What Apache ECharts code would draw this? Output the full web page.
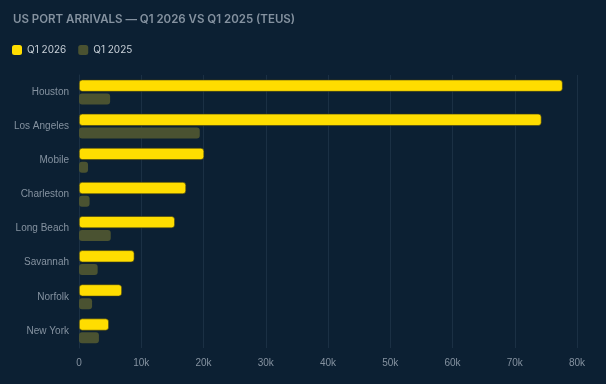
<!DOCTYPE html>
<html><head><meta charset="utf-8">
<script src="https://cdn.jsdelivr.net/npm/echarts@6/dist/echarts.min.js"></script>
<style>html,body{margin:0;padding:0;background:#0c2033;}#c{width:606px;height:384px;}</style>
</head><body><div id="c"></div>
<script>
const ports = ["Houston","Los Angeles","Mobile","Charleston","Long Beach","Savannah","Norfolk","New York"];
const q1_2026 = [77700, 74300, 20100, 17200, 15400, 8900, 6900, 4800];
const q1_2025 = [5000, 19400, 1450, 1700, 5100, 3000, 2100, 3200];
const xTicks = [0, 10000, 20000, 30000, 40000, 50000, 60000, 70000, 80000];

const chart = echarts.init(document.getElementById('c'), null, {renderer:'canvas'});
chart.setOption({
  backgroundColor: '#0c2033',
  animation: false,
  title: {
    text: 'US PORT ARRIVALS — Q1 2026 VS Q1 2025 (TEUS)',
    left: 8, top: 9,
    textStyle: {color:'#8592a0', fontSize: 11.5, fontWeight: 600, fontFamily: 'Inter'}
  },
  legend: {
    left: 7, top: 40, itemWidth: 10, itemHeight: 10, itemGap: 12,
    icon: 'roundRect',
    itemStyle: {borderWidth: 0},
    textStyle: {color:'#c8d0d8', fontSize: 10, fontFamily: 'Inter'},
    data: ['Q1 2026','Q1 2025']
  },
  grid: {left: 79, right: 29, top: 75, bottom: 36, containLabel: false},
  xAxis: {
    type: 'value', min: 0, max: xTicks[xTicks.length-1], interval: 10000,
    axisLabel: {color:'#8592a0', fontSize: 10, fontFamily: 'Liberation Sans', margin: 10,
      formatter: v => v === 0 ? '0' : (v/1000) + 'k'},
    splitLine: {show: true, lineStyle: {color:'#1b3044', width: 1}},
    axisLine: {show: false}, axisTick: {show: false}
  },
  yAxis: {
    type: 'category', data: ports, inverse: true,
    axisLabel: {color:'#8592a0', fontSize: 10, fontFamily: 'Liberation Sans', margin: 10, padding: [2,0,0,0]},
    axisLine: {show: true, lineStyle: {color:'#1b3044'}},
    axisTick: {show: false}
  },
  series: [
    {name:'Q1 2026', type:'bar', data: q1_2026, barWidth: 12, barGap: '15%',
     itemStyle: {color:'#ffdd00', borderRadius: 3, borderColor:'#3d3a12', borderWidth: 0.6}},
    {name:'Q1 2025', type:'bar', data: q1_2025, barWidth: 11,
     itemStyle: {color:'#4a5231', borderRadius: 3}}
  ]
});
</script></body></html>
